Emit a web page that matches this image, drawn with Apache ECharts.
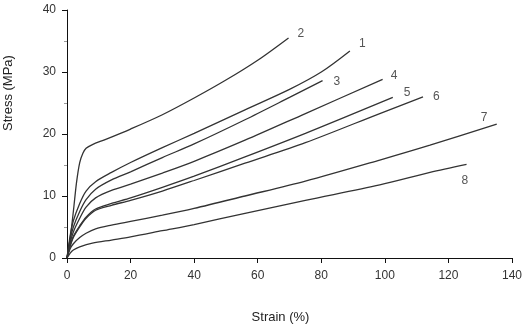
<!DOCTYPE html>
<html>
<head>
<meta charset="utf-8">
<script src="https://cdn.jsdelivr.net/npm/echarts@6/dist/echarts.min.js"></script>
<style>
  html, body { margin: 0; padding: 0; background: #fff; }
  #chart-container { width: 524px; height: 334px; }
</style>
</head>
<body>
<div id="chart-container"></div>
<script>
// 曲線數據 [strain %, stress MPa]
var curve1 = [[0,0],[1,3.6],[2,6.0],[4,8.8],[6,10.8],[9,12.3],[14,13.8],[20,15.4],[30,17.8],[40,20.1],[56,23.9],[70,27.2],[80,30.0],[89,33.4]];
var curve2 = [[0,0],[1,3.2],[2,7.5],[3,12.2],[4,15.4],[5,16.9],[6,17.7],[8,18.3],[12,19.1],[20,20.8],[30,23.1],[40,25.8],[50,28.7],[60,31.9],[69.7,35.5]];
var curve3 = [[0,0],[1,3.0],[2,5.0],[4,7.5],[6,9.4],[9,11.1],[14,12.6],[20,13.9],[30,16.2],[40,18.4],[56,22.3],[70,25.9],[80.4,28.6]];
var curve4 = [[0,0],[1,2.5],[2,4.2],[4,6.4],[6,8.2],[9,9.7],[14,10.9],[20,11.9],[30,13.7],[40,15.6],[56,19.0],[75,23.3],[99.3,28.8]];
var curve5 = [[0,0],[1,2.0],[2,3.5],[4,5.2],[6,6.6],[9,7.9],[14,8.8],[20,9.7],[30,11.4],[40,13.2],[56,16.3],[75,20.1],[102.5,25.9]];
var curve6 = [[0,0],[1,1.9],[2,3.3],[4,5.0],[6,6.4],[9,7.7],[14,8.5],[20,9.3],[30,10.8],[40,12.5],[56,15.3],[75,18.6],[98.4,23.3],[112,26.0]];
var curve7 = [[0,0],[1,1.5],[2,2.3],[4,3.3],[6,4.0],[9,4.7],[14,5.3],[20,5.9],[30,6.9],[40,8.0],[56,10.0],[75,12.4],[98.4,15.8],[114.2,18.2],[135.2,21.6]];
var curve8 = [[0,0],[1,0.8],[2,1.3],[4,1.8],[8,2.4],[14,2.9],[20,3.4],[30,4.4],[40,5.4],[56,7.2],[75,9.3],[98.4,11.8],[114.2,13.8],[125.7,15.1]];

var curveNames = ['1', '2', '3', '4', '5', '6', '7', '8'];
var curveData = [curve1, curve2, curve3, curve4, curve5, curve6, curve7, curve8];
// 標籤位置微調
var labelOffsets = [[1,-7],[1,-4],[3,1],[0,-4],[3,-5],[2,0],[-24,-6],[-13,16]];

var chart = echarts.init(document.getElementById('chart-container'));

var series = curveData.map(function (d, i) {
    return {
        name: curveNames[i],
        type: 'line',
        data: d,
        smooth: 0.3,
        showSymbol: false,
        lineStyle: { color: '#333', width: 1.3 },
        endLabel: {
            show: true,
            formatter: curveNames[i],
            offset: labelOffsets[i],
            color: '#555',
            fontFamily: 'Liberation Sans',
            fontSize: 12
        },
        silent: true,
        animation: false
    };
});

var option = {
    backgroundColor: '#fff',
    grid: {
        left: 67,
        right: 12,
        top: 10,
        bottom: 76,
        containLabel: false,
        outerBoundsMode: 'none'
    },
    xAxis: {
        type: 'value',
        min: 0,
        max: 140,
        interval: 20,
        name: 'Strain (%)',
        nameLocation: 'middle',
        nameGap: 53,
        nameTextStyle: { color: '#222', fontSize: 13, fontFamily: 'Liberation Sans', padding: [0, 18, 0, 0] },
        axisLine: { lineStyle: { color: '#111', width: 1 } },
        axisTick: { show: true, length: 5, lineStyle: { color: '#111' } },
        axisLabel: { color: '#333', fontSize: 12, fontFamily: 'Liberation Sans', margin: 12 },
        splitLine: { show: false }
    },
    yAxis: {
        type: 'value',
        min: 0,
        max: 40,
        interval: 10,
        name: 'Stress (MPa)',
        nameLocation: 'middle',
        nameGap: 52,
        nameRotate: 90,
        nameTextStyle: { color: '#222', fontSize: 13, fontFamily: 'Liberation Sans', padding: [0, 0, 0, 82] },
        axisLine: { show: true, lineStyle: { color: '#111', width: 1 } },
        axisTick: { show: true, length: 5, lineStyle: { color: '#111' } },
        minorTick: { show: true, splitNumber: 2, length: 3, lineStyle: { color: '#999' } },
        axisLabel: { color: '#333', fontSize: 12, fontFamily: 'Liberation Sans', margin: 11 },
        splitLine: { show: false }
    },
    series: series
};

chart.setOption(option);
</script>
</body>
</html>
